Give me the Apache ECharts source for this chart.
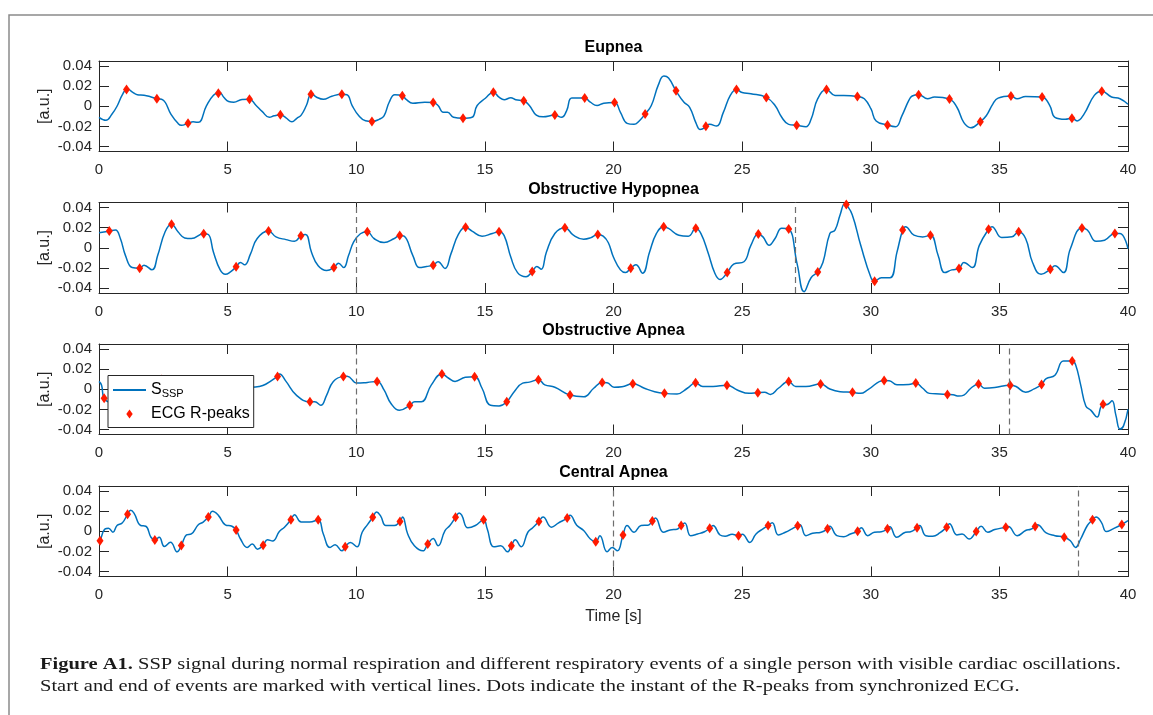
<!DOCTYPE html>
<html>
<head>
<meta charset="utf-8">
<title>SSP signal with ECG R-peaks</title>
<script src="https://cdn.jsdelivr.net/npm/echarts@6/dist/echarts.min.js"></script>
<style>
  html, body { margin: 0; padding: 0; background: #fff; }
  #chart { width: 1153px; height: 715px; }
</style>
</head>
<body>
<div id="chart"></div>
<script>
// Panel titles, in drawing order
const panelTitles = ['Eupnea', 'Obstructive Hypopnea', 'Obstructive Apnea', 'Central Apnea'];

// Axis ticks
const xTicks = [0, 5, 10, 15, 20, 25, 30, 35, 40];
const yTicks = [-0.04, -0.02, 0, 0.02, 0.04];

// SSP signal samples [time s, amplitude a.u.]
const eupneaSignal = [[0,-0.011],[0.27,-0.014],[0.5,-0.008],[0.7,0.0],[0.9,0.011],[1.1,0.0175],[1.3,0.014],[1.49,0.0115],[1.75,0.011],[2.0,0.0095],[2.25,0.0075],[2.48,0.0064],[2.8,-0.008],[3.07,-0.017],[3.2,-0.019],[3.46,-0.017],[3.66,-0.0155],[3.86,-0.016],[4.18,0.0007],[4.45,0.011],[4.68,0.014],[4.85,0.009],[5.04,0.0047],[5.24,0.004],[5.56,0.0068],[5.85,0.007],[6.09,0.0013],[6.35,-0.0054],[6.62,-0.011],[6.81,-0.0095],[7.05,-0.0085],[7.27,-0.0115],[7.5,-0.0155],[7.69,-0.012],[7.86,-0.0088],[8.06,0.0007],[8.26,0.0125],[8.46,0.009],[8.72,0.007],[9.05,0.010],[9.44,0.012],[9.64,0.0115],[9.84,0.0007],[10.1,-0.0095],[10.36,-0.0145],[10.61,-0.0152],[10.89,-0.013],[11.08,-0.0095],[11.28,0.004],[11.5,0.0115],[11.79,0.0105],[11.94,0.0068],[12.2,0.003],[12.66,0.004],[12.99,0.0037],[13.18,0.0007],[13.38,-0.006],[13.55,-0.006],[13.78,-0.011],[14.15,-0.012],[14.5,-0.011],[14.7,0.0007],[15.02,0.008],[15.33,0.014],[15.55,0.009],[15.75,0.0064],[16.01,0.0085],[16.2,0.0065],[16.51,0.0054],[16.73,0.0007],[17.0,-0.0088],[17.26,-0.0105],[17.72,-0.0088],[17.98,-0.011],[18.18,-0.0044],[18.38,0.0081],[18.88,0.0081],[19.1,0.004],[19.36,0.0007],[19.62,0.003],[20.04,0.0037],[20.27,-0.006],[20.53,-0.017],[20.8,-0.018],[21.0,-0.0146],[21.23,-0.0078],[21.47,0.0007],[21.74,0.021],[21.96,0.030],[22.14,0.028],[22.43,0.0153],[22.74,0.004],[22.96,-0.001],[23.2,-0.0163],[23.36,-0.023],[23.47,-0.0224],[23.59,-0.02],[23.74,-0.018],[24.0,-0.0197],[24.27,-0.0061],[24.54,0.0108],[24.78,0.0166],[25.0,0.0136],[25.34,0.0125],[25.94,0.0088],[26.28,0.0007],[26.54,-0.011],[26.81,-0.018],[27.12,-0.019],[27.48,-0.0203],[27.68,-0.0129],[27.94,0.0075],[28.28,0.0166],[28.61,0.0108],[28.95,0.0108],[29.48,0.0098],[29.75,0.0075],[30.01,-0.0027],[30.21,-0.0146],[30.65,-0.0186],[30.97,-0.0203],[31.21,-0.0095],[31.48,0.0058],[31.61,0.0102],[31.86,0.0115],[32.21,0.0075],[32.48,0.0092],[33.06,0.0071],[33.35,-0.001],[33.62,-0.0163],[33.89,-0.0214],[34.26,-0.0153],[34.49,-0.0095],[34.75,0.0024],[34.95,0.0081],[35.45,0.0102],[35.69,0.0075],[36.02,0.0098],[36.66,0.0092],[36.96,0.0007],[37.16,-0.011],[37.56,-0.0129],[37.82,-0.0119],[38.02,-0.0146],[38.29,-0.0078],[38.69,0.0108],[38.98,0.0149],[39.36,0.0092],[39.69,0.0075],[40,0.002]];

const hypopneaSignal = [[0,0.0149],[0.4,0.0166],[0.64,0.0176],[0.83,0.0092],[1.03,-0.0078],[1.29,-0.0197],[1.58,-0.0203],[1.75,-0.0173],[2.06,-0.022],[2.28,-0.0078],[2.57,0.0159],[2.82,0.0234],[3.07,0.0159],[3.33,0.0098],[3.59,0.0092],[4.07,0.0139],[4.25,0.0132],[4.45,-0.0044],[4.71,-0.022],[4.91,-0.0264],[5.11,-0.024],[5.33,-0.019],[5.5,-0.0146],[5.66,-0.017],[5.89,-0.0061],[6.15,0.0092],[6.59,0.0166],[6.88,0.0108],[7.27,0.0081],[7.6,0.0064],[7.85,0.0119],[8.03,0.0132],[8.26,-0.0044],[8.52,-0.018],[8.85,-0.0227],[9.13,-0.0197],[9.31,-0.0153],[9.51,-0.0197],[9.7,-0.0078],[9.9,0.0058],[10.16,0.0139],[10.43,0.0159],[10.69,0.0092],[11.08,0.0051],[11.48,0.0092],[11.69,0.0122],[11.86,0.0115],[12.2,-0.0078],[12.46,-0.0197],[12.73,-0.0186],[12.99,-0.0173],[13.18,-0.0139],[13.45,-0.0207],[13.68,-0.0061],[13.97,0.0132],[14.25,0.0203],[14.5,0.0166],[14.89,0.0115],[15.29,0.0142],[15.55,0.0159],[15.75,0.012],[16.01,-0.0095],[16.27,-0.0247],[16.6,-0.0288],[16.84,-0.0237],[17.02,-0.0186],[17.19,-0.0214],[17.39,-0.0044],[17.72,0.0142],[18.11,0.02],[18.44,0.0125],[18.84,0.0085],[19.1,0.0098],[19.39,0.0132],[19.6,0.0115],[19.8,0.005],[20.0,-0.0095],[20.27,-0.022],[20.47,-0.0247],[20.67,-0.0203],[20.87,-0.017],[21.13,-0.0254],[21.4,-0.0044],[21.67,0.0142],[21.95,0.021],[22.14,0.0193],[22.54,0.0125],[22.91,0.0115],[23.2,0.0193],[23.4,0.014],[23.67,-0.0044],[23.94,-0.0254],[24.14,-0.0315],[24.42,-0.0247],[24.67,-0.0163],[25.07,-0.0139],[25.34,0.0024],[25.63,0.0136],[25.81,0.0108],[26.05,0.0024],[26.28,0.0092],[26.54,0.0193],[26.81,0.0186],[27.14,-0.0163],[27.41,-0.0437],[27.68,-0.0298],[27.94,-0.024],[28.14,-0.0146],[28.41,0.0142],[28.61,0.0176],[28.81,0.0329],[28.99,0.0441],[29.05,0.043],[29.28,0.0329],[29.61,0.0024],[30.01,-0.0298],[30.15,-0.0332],[30.41,-0.0298],[30.75,-0.0298],[31.02,-0.0044],[31.24,0.0176],[31.35,0.021],[31.68,0.0125],[32.02,0.0108],[32.32,0.0125],[32.62,-0.0078],[32.88,-0.0247],[33.15,-0.022],[33.43,-0.0207],[33.62,-0.0146],[33.95,-0.0197],[34.22,0.0024],[34.58,0.0183],[34.71,0.021],[35.09,0.0102],[35.49,0.0109],[35.75,0.0159],[36.02,0.0092],[36.29,-0.0146],[36.62,-0.0264],[36.98,-0.0214],[37.16,-0.018],[37.49,-0.0247],[37.76,-0.001],[38.21,0.0197],[38.42,0.0176],[38.76,0.0064],[39.09,0.0075],[39.49,0.0142],[39.69,0.0142],[40,-0.001]];

const obstructiveApneaSignal = [[0,0.0078],[0.1,0.004],[0.2,-0.009],[0.5,-0.013],[1.0,-0.006],[1.6,0.008],[2.2,0.010],[2.8,0.004],[3.4,-0.008],[4.0,-0.010],[4.6,0.0],[5.2,0.003],[5.6,0.0025],[5.93,0.002],[6.22,0.0027],[6.48,0.005],[6.94,0.0128],[7.02,0.0152],[7.27,0.0078],[7.67,-0.0058],[8.2,-0.0125],[8.39,-0.0125],[8.62,-0.016],[8.85,-0.0058],[9.11,0.0078],[9.5,0.0128],[9.65,0.013],[10.03,0.0061],[10.43,0.0068],[10.81,0.0078],[11.08,-0.0007],[11.35,-0.0142],[11.68,-0.021],[12.08,-0.016],[12.27,-0.0125],[12.53,-0.0125],[12.92,0.0044],[13.33,0.0152],[13.58,0.0112],[13.84,0.0078],[14.24,0.0119],[14.6,0.0125],[14.89,0.001],[15.22,-0.016],[15.55,-0.0166],[15.85,-0.0125],[16.14,-0.0024],[16.47,0.0061],[16.73,0.0071],[17.08,0.0095],[17.33,0.0044],[17.72,0.002],[18.31,-0.0058],[18.84,-0.0075],[19.23,0.001],[19.56,0.0068],[19.75,0.0065],[20.02,0.002],[20.33,0.0025],[20.75,0.0054],[21.2,0.001],[21.6,-0.0024],[21.98,-0.0041],[22.47,-0.0047],[22.87,0.001],[23.19,0.0064],[23.47,0.0027],[23.87,0.0027],[24.41,0.0041],[24.81,-0.0007],[25.27,-0.0041],[25.61,-0.0034],[25.87,-0.003],[26.1,-0.0051],[26.41,0.001],[26.81,0.0078],[27.08,0.0027],[27.48,0.0027],[28.05,0.0051],[28.41,0.0003],[28.81,-0.0024],[29.29,-0.0031],[29.61,-0.0041],[29.88,-0.0007],[30.52,0.0088],[30.72,0.0085],[31.02,0.0044],[31.48,0.0048],[31.75,0.0061],[32.02,0.001],[32.28,-0.0041],[32.68,-0.0047],[32.98,-0.0051],[33.2,-0.0055],[33.42,-0.0068],[33.62,-0.0058],[33.89,0.001],[34.19,0.0051],[34.42,0.001],[34.82,0.0017],[35.42,0.0041],[35.65,0.0027],[36.02,-0.003],[36.35,0.0003],[36.64,0.0047],[36.82,0.0105],[37.16,0.0139],[37.49,0.028],[37.83,0.028],[37.96,0.0247],[38.16,0.0044],[38.36,-0.0166],[38.56,-0.021],[38.8,-0.0277],[38.99,-0.016],[39.22,-0.0149],[39.38,-0.0115],[39.53,-0.026],[39.69,-0.0396],[39.83,-0.0362],[40,-0.02]];

const centralApneaSignal = [[0,-0.011],[0.04,-0.0094],[0.24,0.0024],[0.37,0.003],[0.54,-0.001],[0.7,0.0057],[0.9,0.0081],[1.11,0.0168],[1.23,0.0208],[1.36,0.018],[1.62,0.0057],[1.82,0.005],[2.02,-0.006],[2.17,-0.0087],[2.34,-0.006],[2.54,-0.0151],[2.78,-0.011],[3.04,-0.0205],[3.2,-0.0141],[3.4,-0.0037],[3.59,-0.0027],[3.86,0.0064],[4.05,0.0091],[4.25,0.0141],[4.41,0.0198],[4.64,0.0158],[4.91,0.0064],[5.17,0.005],[5.33,0.0013],[5.5,-0.0077],[5.76,-0.0161],[5.96,-0.0128],[6.16,-0.0178],[6.38,-0.0138],[6.55,-0.0084],[6.75,-0.0097],[7.01,-0.0003],[7.21,0.004],[7.46,0.0114],[7.6,0.0165],[7.86,0.0091],[8.19,0.0091],[8.52,0.0114],[8.72,-0.0027],[8.98,-0.0161],[9.18,-0.0134],[9.44,-0.0195],[9.57,-0.0155],[9.77,-0.0111],[10.03,-0.0155],[10.23,-0.001],[10.43,0.0064],[10.64,0.0138],[10.79,0.0192],[10.95,0.0151],[11.15,0.0057],[11.48,0.0057],[11.7,0.0097],[11.8,0.0141],[12.0,-0.0027],[12.26,-0.0145],[12.59,-0.0195],[12.78,-0.0128],[12.99,-0.0071],[13.18,-0.0145],[13.45,0.0007],[13.64,0.0057],[13.86,0.0138],[14.0,0.0182],[14.1,0.016],[14.34,0.0034],[14.63,0.0057],[14.95,0.0114],[15.09,0.0024],[15.35,-0.0155],[15.62,-0.0145],[15.88,-0.0205],[16.03,-0.0145],[16.18,-0.0084],[16.41,-0.0155],[16.67,-0.001],[16.86,0.0035],[17.1,0.0097],[17.26,0.0141],[17.59,0.004],[17.85,0.0081],[18.2,0.0131],[18.31,0.0158],[18.57,0.006],[18.84,0.0007],[19.1,-0.0077],[19.31,-0.0104],[19.47,-0.0044],[19.75,-0.0205],[19.95,-0.0161],[20.15,-0.0195],[20.37,-0.0037],[20.53,0.0057],[20.8,-0.001],[21.07,0.0057],[21.34,0.006],[21.51,0.0101],[21.63,0.0131],[21.94,-0.001],[22.2,0.0013],[22.47,0.002],[22.63,0.0057],[22.77,0.0081],[23.0,-0.0044],[23.27,-0.0027],[23.54,-0.0005],[23.74,0.003],[23.87,0.0057],[24.14,-0.0037],[24.34,-0.005],[24.61,-0.003],[24.86,-0.0044],[25.01,-0.003],[25.3,-0.0111],[25.54,-0.0027],[25.81,0.0024],[26.01,0.0057],[26.17,0.0084],[26.41,-0.0037],[26.68,-0.001],[26.94,0.0024],[27.16,0.0054],[27.25,0.0064],[27.48,-0.0044],[27.74,-0.002],[28.07,-0.001],[28.32,0.0024],[28.41,0.005],[28.68,-0.0044],[28.95,-0.0054],[29.21,-0.0027],[29.49,0.0],[29.63,0.0034],[29.88,-0.0044],[30.14,-0.001],[30.41,-0.0005],[30.65,0.0024],[30.74,0.0045],[31.01,-0.006],[31.35,-0.001],[31.55,-0.0005],[31.8,0.0034],[31.9,0.0057],[32.14,-0.0044],[32.41,-0.005],[32.68,-0.0017],[32.95,0.004],[33.06,0.0074],[33.35,-0.0037],[33.55,-0.0027],[33.82,-0.0077],[34.1,-0.0003],[34.29,0.005],[34.55,-0.001],[34.82,0.0017],[35.25,0.004],[35.35,0.0047],[35.69,-0.0044],[36.02,0.0007],[36.22,0.002],[36.39,0.0047],[36.48,0.0064],[36.82,-0.0017],[37.16,-0.0044],[37.52,-0.006],[37.76,-0.0094],[37.96,-0.0161],[38.16,-0.0077],[38.42,0.0057],[38.62,0.0114],[38.76,0.0141],[38.96,0.0091],[39.16,-0.0003],[39.42,0.0024],[39.76,0.0067],[40,0.0105]];

// ECG R-peak instants [time s, SSP amplitude at that instant]
const eupneaPeaks = [[1.07,0.0166],[2.25,0.0075],[3.46,-0.017],[4.64,0.013],[5.85,0.007],[7.05,-0.0085],[8.24,0.012],[9.44,0.012],[10.61,-0.0152],[11.79,0.0105],[12.99,0.0037],[14.15,-0.012],[15.33,0.014],[16.51,0.0054],[17.72,-0.0088],[18.88,0.0081],[20.04,0.0037],[21.23,-0.0078],[22.43,0.0153],[23.59,-0.02],[24.78,0.0166],[25.94,0.0088],[27.12,-0.019],[28.28,0.0166],[29.48,0.0098],[30.65,-0.0186],[31.86,0.0115],[33.06,0.0071],[34.26,-0.0153],[35.45,0.0102],[36.66,0.0092],[37.82,-0.0119],[38.98,0.0149]];

const hypopneaPeaks = [[0.4,0.0166],[1.58,-0.0203],[2.82,0.0234],[4.07,0.0139],[5.33,-0.019],[6.59,0.0166],[7.85,0.0119],[9.13,-0.0197],[10.43,0.0159],[11.69,0.0122],[12.99,-0.0173],[14.25,0.0203],[15.55,0.0159],[16.84,-0.0237],[18.11,0.02],[19.39,0.0132],[20.67,-0.0203],[21.95,0.021],[23.2,0.0193],[24.42,-0.0247],[25.63,0.0136],[26.81,0.0186],[27.94,-0.024],[29.05,0.043],[30.15,-0.0332],[31.24,0.0176],[32.32,0.0125],[33.43,-0.0207],[34.58,0.0183],[35.75,0.0159],[36.98,-0.0214],[38.21,0.0197],[39.49,0.0142]];

const obstructiveApneaPeaks = [[0.2,-0.009],[1.32,-0.007],[2.44,0.0098],[3.56,-0.0085],[4.69,0.0002],[5.81,0.0022],[6.94,0.0128],[8.2,-0.0125],[9.5,0.0128],[10.81,0.0078],[12.08,-0.016],[13.33,0.0152],[14.6,0.0125],[15.85,-0.0125],[17.08,0.0095],[18.31,-0.0058],[19.56,0.0068],[20.75,0.0054],[21.98,-0.0041],[23.19,0.0064],[24.41,0.0041],[25.61,-0.0034],[26.81,0.0078],[28.05,0.0051],[29.29,-0.0031],[30.52,0.0088],[31.75,0.0061],[32.98,-0.0051],[34.19,0.0051],[35.42,0.0041],[36.64,0.0047],[37.83,0.028],[39.03,-0.015]];

const centralApneaPeaks = [[0.04,-0.0094],[1.11,0.0168],[2.17,-0.0087],[3.2,-0.0141],[4.25,0.0141],[5.33,0.0013],[6.38,-0.0138],[7.46,0.0114],[8.52,0.0114],[9.57,-0.0155],[10.64,0.0138],[11.7,0.0097],[12.78,-0.0128],[13.86,0.0138],[14.95,0.0114],[16.03,-0.0145],[17.1,0.0097],[18.2,0.0131],[19.31,-0.0104],[20.37,-0.0037],[21.51,0.0101],[22.63,0.0057],[23.74,0.003],[24.86,-0.0044],[26.01,0.0057],[27.16,0.0054],[28.32,0.0024],[29.49,0.0],[30.65,0.0024],[31.8,0.0034],[32.95,0.004],[34.1,-0.0003],[35.25,0.004],[36.39,0.0047],[37.52,-0.006],[38.62,0.0114],[39.76,0.0067]];

// Start / end of each respiratory event [s]
const eupneaEvents = [];
const hypopneaEvents = [10, 27.05];
const obstructiveApneaEvents = [10, 35.4];
const centralApneaEvents = [20, 38.05];

const signals = [eupneaSignal, hypopneaSignal, obstructiveApneaSignal, centralApneaSignal];
const peaks = [eupneaPeaks, hypopneaPeaks, obstructiveApneaPeaks, centralApneaPeaks];
const events = [eupneaEvents, hypopneaEvents, obstructiveApneaEvents, centralApneaEvents];

const FONT = 'Liberation Sans';
const AXIS_COLOR = '#262626';
const LINE_COLOR = '#0072BD';
const PEAK_COLOR = '#FF1A00';

// panel placement (px)
const PLOT_LEFT = 99, PLOT_WIDTH = 1029;
const panelTops = [61, 202.5, 344, 486];
const PANEL_HEIGHT = 90.5;

const grid = [], xAxis = [], yAxis = [], series = [], title = [];

const yLabelFmt = v => (Math.abs(v) < 1e-9 ? '0' : v.toFixed(2));

panelTitles.forEach((name, i) => {
  grid.push({ left: PLOT_LEFT, top: panelTops[i], width: PLOT_WIDTH, height: PANEL_HEIGHT, containLabel: false });

  title.push({
    text: name, left: PLOT_LEFT + PLOT_WIDTH / 2, top: panelTops[i] - 21, textAlign: 'center', padding: 0,
    textStyle: { fontFamily: FONT, fontSize: 16, fontWeight: 'bold', color: '#000' }
  });

  const isLast = i === panelTitles.length - 1;
  // bottom x axis with labels
  xAxis.push({
    gridIndex: i, type: 'value', min: xTicks[0], max: xTicks[xTicks.length - 1], interval: 5,
    position: 'bottom',
    axisLine: { onZero: false, lineStyle: { color: AXIS_COLOR, width: 1 } },
    axisTick: { inside: true, length: 10, lineStyle: { color: AXIS_COLOR } },
    axisLabel: { fontFamily: FONT, fontSize: 15, color: AXIS_COLOR, margin: 11 },
    splitLine: { show: false },
    name: isLast ? 'Time [s]' : '', nameLocation: 'middle', nameGap: 32,
    nameTextStyle: { fontFamily: FONT, fontSize: 16, color: AXIS_COLOR }
  });
  // mirrored top x axis (box)
  xAxis.push({
    gridIndex: i, type: 'value', min: xTicks[0], max: xTicks[xTicks.length - 1], interval: 5,
    position: 'top',
    axisLine: { onZero: false, lineStyle: { color: AXIS_COLOR, width: 1 } },
    axisTick: { inside: true, length: 10, lineStyle: { color: AXIS_COLOR } },
    axisLabel: { show: false }, splitLine: { show: false }
  });
  // left y axis with labels
  yAxis.push({
    gridIndex: i, type: 'value', min: -0.045, max: 0.045, position: 'left',
    axisLine: { onZero: false, lineStyle: { color: AXIS_COLOR, width: 1 } },
    axisTick: { inside: true, length: 10, customValues: yTicks, lineStyle: { color: AXIS_COLOR } },
    axisLabel: { customValues: yTicks, formatter: yLabelFmt, fontFamily: FONT, fontSize: 15, color: AXIS_COLOR, margin: 7 },
    splitLine: { show: false },
    name: '[a.u.]', nameLocation: 'middle', nameGap: 46, nameRotate: 90, nameMoveOverlap: false,
    nameTextStyle: { fontFamily: FONT, fontSize: 16, color: AXIS_COLOR }
  });
  // mirrored right y axis (box)
  yAxis.push({
    gridIndex: i, type: 'value', min: -0.045, max: 0.045, position: 'right',
    axisLine: { onZero: false, lineStyle: { color: AXIS_COLOR, width: 1 } },
    axisTick: { inside: true, length: 10, customValues: yTicks, lineStyle: { color: AXIS_COLOR } },
    axisLabel: { show: false }, splitLine: { show: false }
  });

  series.push({
    name: 'S_SSP', type: 'line', xAxisIndex: 2 * i, yAxisIndex: 2 * i,
    data: signals[i], symbol: 'none', smooth: 0.45, clip: true,
    lineStyle: { color: LINE_COLOR, width: 1.5 }, itemStyle: { color: LINE_COLOR },
    emphasis: { disabled: true }, animation: false,
    markLine: events[i].length ? {
      silent: true, symbol: 'none', label: { show: false },
      lineStyle: { color: '#6e6e6e', type: [6, 4], width: 1.2 },
      data: events[i].map(t => ({ xAxis: t }))
    } : undefined
  });
  series.push({
    name: 'ECG R-peaks', type: 'scatter', xAxisIndex: 2 * i, yAxisIndex: 2 * i,
    data: peaks[i], symbol: 'diamond', symbolSize: [7, 10],
    itemStyle: { color: PEAK_COLOR, opacity: 1 },
    emphasis: { disabled: true }, animation: false, z: 3
  });
});

const chart = echarts.init(document.getElementById('chart'), null, { renderer: 'canvas' });
chart.setOption({
  backgroundColor: '#fff',
  animation: false,
  title, grid, xAxis, yAxis, series,
  legend: {
    data: [
      { name: 'S_SSP', itemStyle: { opacity: 0 } },
      { name: 'ECG R-peaks', icon: 'path://M5,0L10,7L5,14L0,7Z' }
    ],
    orient: 'vertical', left: 108, top: 375.5,
    itemWidth: 33, itemHeight: 9, itemGap: 5,
    padding: [5, 4, 4, 4],
    backgroundColor: '#fff', borderColor: AXIS_COLOR, borderWidth: 1,
    selectedMode: false,
    formatter: n => (n === 'S_SSP' ? '{m|S}{s|SSP}' : n),
    textStyle: {
      fontFamily: FONT, fontSize: 16, color: '#000', lineHeight: 19,
      rich: {
        m: { fontFamily: FONT, fontSize: 16, color: '#000', lineHeight: 19 },
        s: { fontFamily: FONT, fontSize: 11, color: '#000', lineHeight: 19, padding: [8, 0, 0, 0] }
      }
    }
  },
  graphic: [
    {
      type: 'rect', silent: true, z: -1,
      shape: { x: 9, y: 15, width: 1200, height: 800 },
      style: { fill: 'none', stroke: '#8a8a8a', lineWidth: 1.5 }
    },
    {
      type: 'text', x: 40, y: 653, silent: true, scaleX: 1.17,
      style: {
        text: '{b|Figure A1.} SSP signal during normal respiration and different respiratory events of a single person with visible cardiac oscillations.\nStart and end of events are marked with vertical lines. Dots indicate the instant of the R-peaks from synchronized ECG.',
        font: '17.5px "Liberation Serif"', fill: '#1a1a1a', lineHeight: 22.5,
        rich: { b: { font: 'bold 17.5px "Liberation Serif"', fill: '#1a1a1a' } }
      }
    }
  ]
});
</script>
</body>
</html>
